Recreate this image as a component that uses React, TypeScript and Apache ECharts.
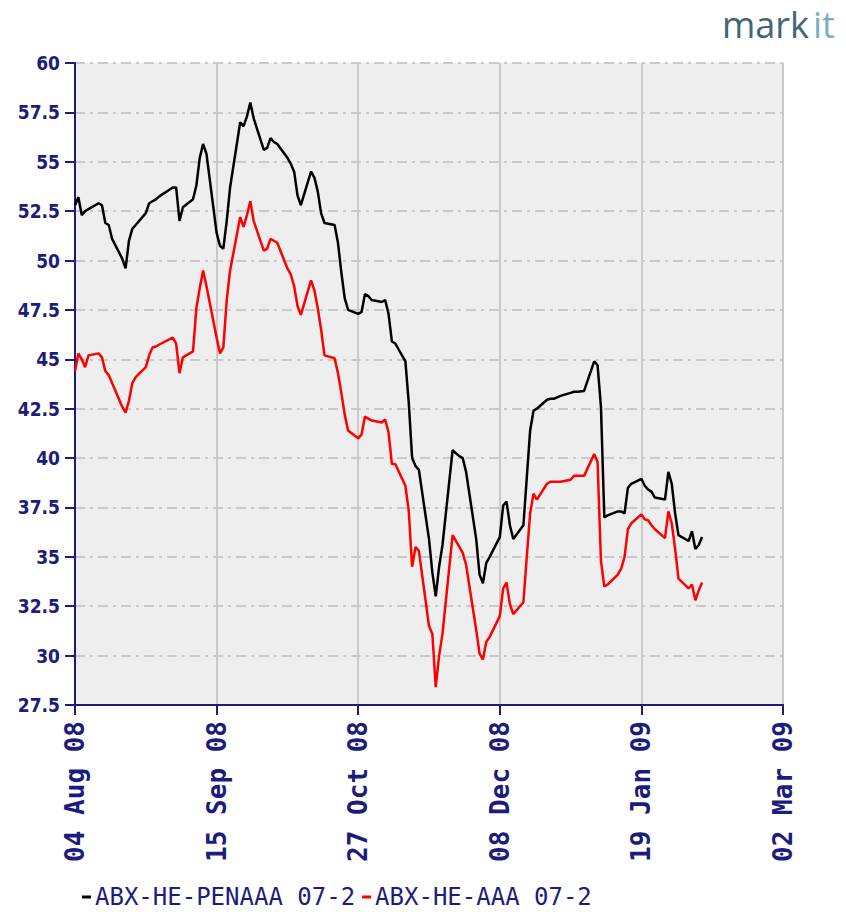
import React, { useEffect, useRef } from 'react';
import * as echarts from 'echarts';

const dates = [
  '2008-08-04', '2008-08-05', '2008-08-06', '2008-08-07', '2008-08-08',
  '2008-08-11', '2008-08-12', '2008-08-13', '2008-08-14', '2008-08-15',
  '2008-08-18', '2008-08-19', '2008-08-20', '2008-08-21', '2008-08-22',
  '2008-08-25', '2008-08-26', '2008-08-27', '2008-08-28', '2008-08-29',
  '2008-09-02', '2008-09-03', '2008-09-04', '2008-09-05',
  '2008-09-08', '2008-09-09', '2008-09-10', '2008-09-11', '2008-09-12',
  '2008-09-15', '2008-09-16', '2008-09-17', '2008-09-18', '2008-09-19',
  '2008-09-22', '2008-09-23', '2008-09-24', '2008-09-25', '2008-09-26',
  '2008-09-29', '2008-09-30', '2008-10-01', '2008-10-02', '2008-10-03',
  '2008-10-06', '2008-10-07', '2008-10-08', '2008-10-09', '2008-10-10',
  '2008-10-13', '2008-10-14', '2008-10-15', '2008-10-16', '2008-10-17',
  '2008-10-20', '2008-10-21', '2008-10-22', '2008-10-23', '2008-10-24',
  '2008-10-27', '2008-10-28', '2008-10-29', '2008-10-30', '2008-10-31',
  '2008-11-03', '2008-11-04', '2008-11-05', '2008-11-06', '2008-11-07',
  '2008-11-10', '2008-11-11', '2008-11-12', '2008-11-13', '2008-11-14',
  '2008-11-17', '2008-11-18', '2008-11-19', '2008-11-20', '2008-11-21',
  '2008-11-24', '2008-11-25', '2008-11-26', '2008-11-27', '2008-11-28',
  '2008-12-01', '2008-12-02', '2008-12-03', '2008-12-04', '2008-12-05',
  '2008-12-08', '2008-12-09', '2008-12-10', '2008-12-11', '2008-12-12',
  '2008-12-15', '2008-12-16', '2008-12-17', '2008-12-18', '2008-12-19',
  '2008-12-22', '2008-12-23', '2008-12-24', '2008-12-26',
  '2008-12-29', '2008-12-30', '2008-12-31', '2009-01-02',
  '2009-01-05', '2009-01-06', '2009-01-07', '2009-01-08', '2009-01-09',
  '2009-01-12', '2009-01-13', '2009-01-14', '2009-01-15', '2009-01-16',
  '2009-01-19', '2009-01-20', '2009-01-21', '2009-01-22', '2009-01-23',
  '2009-01-26', '2009-01-27', '2009-01-28', '2009-01-29', '2009-01-30',
  '2009-02-02', '2009-02-03', '2009-02-04', '2009-02-05', '2009-02-06',
];

const penaaa = [
  52.8, 53.2, 52.3, 52.5, 52.6,
  52.9, 52.8, 51.9, 51.8, 51.1,
  50.1, 49.6, 51.0, 51.6, 51.8,
  52.4, 52.9, 53.0, 53.1, 53.25,
  53.7, 53.7, 52.0, 52.7,
  53.1, 53.8, 55.2, 55.9, 55.4,
  51.4, 50.75, 50.6, 52.0, 53.7,
  57.0, 56.8, 57.3, 58.0, 57.2,
  55.6, 55.7, 56.2, 56.0, 55.9,
  55.2, 54.9, 54.5, 53.3, 52.8,
  54.5, 54.2, 53.5, 52.4, 51.9,
  51.8, 50.9, 49.4, 48.1, 47.5,
  47.3, 47.4, 48.3, 48.2, 48.0,
  47.9, 48.0, 47.3, 45.9, 45.8,
  44.9, 42.8, 40.0, 39.6, 39.4,
  35.9, 34.2, 33.0, 34.5, 35.6,
  40.4, 40.24, 40.1, 40.0, 39.3,
  35.9, 34.1, 33.66, 34.7, 35.0,
  36.0, 37.6, 37.8, 36.6, 35.9,
  36.6, 39.0, 41.4, 42.4, 42.5,
  42.95, 43.0, 43.0, 43.15,
  43.3, 43.36, 43.36, 43.4,
  44.9, 44.7, 42.6, 37.0, 37.1,
  37.3, 37.3, 37.2, 38.5, 38.7,
  38.95, 38.6, 38.4, 38.3, 38.0,
  37.9, 39.3, 38.7, 37.2, 36.1,
  35.8, 36.3, 35.4, 35.6, 36.0,
];

const aaa = [
  44.4, 45.3, 45.0, 44.6, 45.2,
  45.3, 45.1, 44.4, 44.2, 43.8,
  42.6, 42.3, 42.9, 43.8, 44.1,
  44.6, 45.2, 45.6, 45.65, 45.75,
  46.1, 45.8, 44.3, 45.1,
  45.4, 47.6, 48.6, 49.5, 48.7,
  46.1, 45.3, 45.6, 48.0, 49.5,
  52.2, 51.7, 52.3, 53.0, 52.0,
  50.5, 50.6, 51.1, 51.0, 50.9,
  49.6, 49.3, 48.7, 47.7, 47.25,
  49.0, 48.5, 47.6, 46.5, 45.2,
  45.05, 44.3, 43.3, 42.2, 41.4,
  41.0, 41.2, 42.1, 42.0, 41.9,
  41.8, 41.95, 41.3, 39.7, 39.7,
  38.6, 37.3, 34.5, 35.5, 35.3,
  31.5, 31.1, 28.4, 30.0, 31.1,
  36.1, 35.8, 35.5, 35.2, 34.6,
  31.3, 30.1, 29.8, 30.7, 30.95,
  32.0, 33.4, 33.7, 32.6, 32.1,
  32.7, 35.0, 37.2, 38.2, 37.9,
  38.7, 38.8, 38.8, 38.8,
  38.9, 39.1, 39.1, 39.1,
  40.2, 39.8, 34.8, 33.5, 33.6,
  34.1, 34.4, 35.0, 36.4, 36.7,
  37.15, 36.9, 36.85, 36.6, 36.4,
  35.95, 37.3, 36.7, 35.4, 33.9,
  33.4, 33.6, 32.8, 33.3, 33.7,
];

const xTickLabels = ['04 Aug 08', '15 Sep 08', '27 Oct 08', '08 Dec 08', '19 Jan 09', '02 Mar 09'];
const seriesNames = ['ABX-HE-PENAAA 07-2', 'ABX-HE-AAA 07-2'];
const seriesColors = ['#000000', '#ff0000'];

const START = Date.UTC(2008, 7, 4);
const dayOf = (s: string) => (Date.parse(s + 'T00:00:00Z') - START) / 86400000;

const NAVY = '#1c1c7c';
const GRID = '#c9c9c9';

export default function App() {
  const ref = useRef<HTMLDivElement>(null);
  useEffect(() => {
    if (!ref.current) return;
    const chart = echarts.init(ref.current, undefined, { renderer: 'svg' });
    const option: any = {
      animation: false,
      backgroundColor: '#ffffff',
      grid: {
        left: 75, top: 63, width: 708, height: 642,
        show: true, backgroundColor: '#eeeeee', borderWidth: 0,
      },
      xAxis: {
        type: 'value', min: 0, max: 210, interval: 42,
        axisLine: { show: true, onZero: false, lineStyle: { color: NAVY, width: 2 } },
        axisTick: { show: true, length: 10, lineStyle: { color: NAVY, width: 2 } },
        axisLabel: {
          rotate: 90, margin: 16, color: NAVY,
          fontFamily: 'DejaVu Sans Mono', fontSize: 26, fontWeight: 'bold',
          showMinLabel: true, showMaxLabel: true,
          formatter: (v: number) => xTickLabels[Math.round(v / 42)] ?? '',
        },
        splitLine: { show: true, lineStyle: { color: GRID, width: 2 } },
      },
      yAxis: {
        type: 'value', min: 27.5, max: 60, interval: 2.5,
        axisLine: { show: true, onZero: false, lineStyle: { color: NAVY, width: 2 } },
        axisTick: { show: true, length: 10, lineStyle: { color: NAVY, width: 2 } },
        axisLabel: {
          margin: 15, color: NAVY,
          fontFamily: 'DejaVu Sans Condensed', fontSize: 19, fontWeight: 'bold',
          showMinLabel: true, showMaxLabel: true,
        },
        splitLine: { show: true, lineStyle: { color: GRID, width: 2, type: [10, 5, 3, 5] } },
      },
      legend: {
        left: 82, top: 884, padding: 0,
        icon: 'rect', itemWidth: 9, itemHeight: 3, itemGap: 7,
        textStyle: { color: NAVY, fontFamily: 'DejaVu Sans Mono', fontSize: 24, lineHeight: 26, padding: [0, 0, 0, -1] },
        data: seriesNames.map((n, i) => ({ name: n, itemStyle: { color: seriesColors[i] } })),
      },
      graphic: [
        {
          type: 'text', x: 722, y: 6,
          style: { text: 'mark', fill: '#3f6576', fontSize: 36, fontFamily: 'Open Sans', textBaseline: 'top' },
        },
        {
          type: 'text', x: 813, y: 6,
          style: { text: 'it', fill: '#7cafbe', fontSize: 36, fontFamily: 'Open Sans', textBaseline: 'top' },
        },
      ],
      series: [
        {
          type: 'line', name: seriesNames[0],
          data: dates.map((d, i) => [dayOf(d), penaaa[i]]),
          showSymbol: false, symbol: 'none',
          lineStyle: { color: seriesColors[0], width: 2.5 },
          itemStyle: { color: seriesColors[0] },
        },
        {
          type: 'line', name: seriesNames[1],
          data: dates.map((d, i) => [dayOf(d), aaa[i]]),
          showSymbol: false, symbol: 'none',
          lineStyle: { color: seriesColors[1], width: 2.5 },
          itemStyle: { color: seriesColors[1] },
        },
      ],
    };
    chart.setOption(option);
    return () => chart.dispose();
  }, []);
  return <div ref={ref} style={{ position: 'absolute', left: 0, top: 0, width: 846, height: 912 }} />;
}
